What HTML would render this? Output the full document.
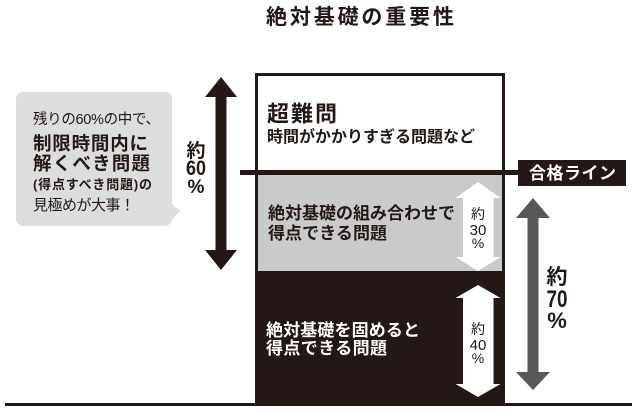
<!DOCTYPE html>
<html>
<head>
<meta charset="utf-8">
<style>
  html,body{margin:0;padding:0;background:#fff;}
  svg{display:block;}
  text{font-family:"Liberation Sans","Noto Sans CJK JP",sans-serif;}
  .b{font-weight:700;}
</style>
</head>
<body>
<svg width="640" height="415" viewBox="0 0 640 415" xmlns="http://www.w3.org/2000/svg">
  <!-- Title -->
  <text class="b" x="266" y="24" font-size="21" fill="#231815" textLength="188" lengthAdjust="spacing">絶対基礎の重要性</text>

  <!-- Main box -->
  <rect x="256.5" y="74.5" width="247" height="329" fill="#fff" stroke="#231815" stroke-width="3"/>
  <rect x="258" y="172" width="244" height="99" fill="#c9caca"/>
  <rect x="255" y="271" width="250" height="133" fill="#231815"/>

  <!-- bottom baseline -->
  <rect x="5" y="403" width="627" height="3" fill="#231815"/>

  <!-- pass line -->
  <rect x="240" y="170" width="280" height="5" fill="#231815"/>
  <rect x="518" y="160" width="108" height="26" fill="#231815"/>
  <text class="b" x="529" y="179" font-size="17" fill="#fff" textLength="87" lengthAdjust="spacing">合格ライン</text>

  <!-- box texts -->
  <text class="b" x="267" y="121.5" font-size="22" fill="#231815" textLength="70" lengthAdjust="spacing">超難問</text>
  <text class="b" x="267" y="142" font-size="16" fill="#231815" textLength="208" lengthAdjust="spacing">時間がかかりすぎる問題など</text>

  <text class="b" x="268" y="219" font-size="17" fill="#231815" textLength="187" lengthAdjust="spacing">絶対基礎の組み合わせで</text>
  <text class="b" x="268" y="239" font-size="17" fill="#231815" textLength="119" lengthAdjust="spacing">得点できる問題</text>

  <text class="b" x="266" y="336" font-size="17" fill="#fff" textLength="154" lengthAdjust="spacing">絶対基礎を固めると</text>
  <text class="b" x="266" y="354" font-size="17" fill="#fff" textLength="121" lengthAdjust="spacing">得点できる問題</text>

  <!-- white arrow in gray region -->
  <path d="M478,182 L500.5,198 L493.5,198 L493.5,257 L500.5,257 L478,271 L455.5,257 L463,257 L463,198 L455.5,198 Z" fill="#fff"/>
  <text x="478" y="219" font-size="14" fill="#231815" text-anchor="middle">約</text>
  <text x="478" y="235" font-size="15" fill="#231815" text-anchor="middle">30</text>
  <text x="478" y="248" font-size="14" fill="#231815" text-anchor="middle">%</text>

  <!-- white arrow in dark region -->
  <path d="M478,285 L500.5,298 L493.5,298 L493.5,384 L500.5,384 L478,397 L455.5,384 L463,384 L463,298 L455.5,298 Z" fill="#fff"/>
  <text x="478" y="334" font-size="14" fill="#231815" text-anchor="middle">約</text>
  <text x="478" y="350" font-size="15" fill="#231815" text-anchor="middle">40</text>
  <text x="478" y="363" font-size="14" fill="#231815" text-anchor="middle">%</text>

  <!-- gray arrow right -->
  <path d="M533,198 L550,218 L538.5,218 L538.5,372 L550,372 L533,390 L516,372 L527.5,372 L527.5,218 L516,218 Z" fill="#595757"/>
  <text class="b" x="557" y="284" font-size="21" fill="#231815" text-anchor="middle">約</text>
  <text class="b" x="557" y="307" font-size="24" fill="#231815" text-anchor="middle" textLength="21" lengthAdjust="spacingAndGlyphs">70</text>
  <text class="b" x="557" y="328" font-size="22" fill="#231815" text-anchor="middle">%</text>

  <!-- black arrow left -->
  <path d="M221,77 L237,97 L226.5,97 L226.5,250 L237,250 L221,270 L205,250 L215.5,250 L215.5,97 L205,97 Z" fill="#231815"/>
  <text class="b" x="196" y="157" font-size="19" fill="#231815" text-anchor="middle">約</text>
  <text class="b" x="196" y="175" font-size="21" fill="#231815" text-anchor="middle" textLength="20" lengthAdjust="spacingAndGlyphs">60</text>
  <text class="b" x="196" y="193" font-size="19" fill="#231815" text-anchor="middle">%</text>

  <!-- speech bubble -->
  <rect x="16" y="92" width="156" height="134" rx="7" ry="7" fill="#dcdddd"/>
  <polygon points="171,203 180,211 171,221" fill="#dcdddd"/>
  <text x="33" y="124" font-size="14.5" fill="#231815" textLength="127" lengthAdjust="spacing">残りの60%の中で、</text>
  <text class="b" x="33" y="150" font-size="18.5" fill="#231815" textLength="115" lengthAdjust="spacing">制限時間内に</text>
  <text class="b" x="33" y="170" font-size="18.5" fill="#231815" textLength="117" lengthAdjust="spacing">解くべき問題</text>
  <text class="b" x="33" y="189" font-size="13" fill="#231815" textLength="119" lengthAdjust="spacing">(得点すべき問題)の</text>
  <text x="33" y="210" font-size="15" fill="#231815" textLength="102" lengthAdjust="spacing">見極めが大事！</text>
</svg>
</body>
</html>
